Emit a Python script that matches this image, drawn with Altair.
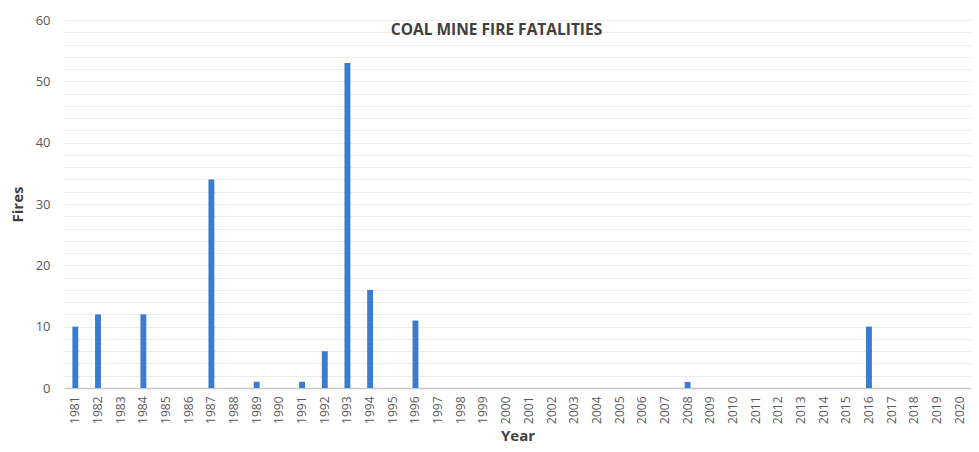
import altair as alt
import pandas as pd

years = [str(y) for y in range(1981, 2021)]
fatalities = [10, 12, 0, 12, 0, 0, 34, 0, 1, 0,
              1, 6, 53, 16, 0, 11, 0, 0, 0, 0,
              0, 0, 0, 0, 0, 0, 0, 1, 0, 0,
              0, 0, 0, 0, 0, 10, 0, 0, 0, 0]
major_ticks = [0, 10, 20, 30, 40, 50, 60]
minor_ticks = list(range(0, 61, 2))

df = pd.DataFrame({"Year": years, "Fires": fatalities})

FONT = "Open Sans"
x_enc = alt.X("Year:N", sort=years,
              scale=alt.Scale(paddingInner=0.74, paddingOuter=0.37),
              axis=alt.Axis(title="Year", labelAngle=-90, labelFontSize=12,
                            labelColor="#595959", labelFont=FONT, ticks=False,
                            domainColor="#c8c8c8", domainWidth=1.5,
                            titleFont=FONT, titleFontSize=15, titleColor="#404040",
                            titleFontWeight="bold", labelPadding=8, titlePadding=5,
                            grid=False))

minor = alt.Chart(df).mark_bar(opacity=0).encode(
    x=x_enc,
    y=alt.Y("Fires:Q", scale=alt.Scale(domain=[0, 60], nice=False),
            axis=alt.Axis(orient="left", values=minor_ticks, labels=False, ticks=False,
                          domain=False, title=None, gridColor="#ececec", gridWidth=1)),
)

bars = alt.Chart(df).mark_bar(color="#3b7bd0").encode(
    x=x_enc,
    y=alt.Y("Fires:Q", scale=alt.Scale(domain=[0, 60], nice=False),
            axis=alt.Axis(orient="left", values=major_ticks, ticks=False, domain=False,
                          title="Fires", labelFontSize=13, labelColor="#595959",
                          labelFont=FONT, labelPadding=14,
                          gridColor="#d4d4d4", gridWidth=1.3,
                          titleFont=FONT, titleFontSize=15, titleColor="#404040",
                          titleFontWeight="bold", titlePadding=10)),
)

chart = alt.layer(minor, bars).resolve_axis(y="independent").properties(
    width=907, height=368,
    title=alt.TitleParams("COAL MINE FIRE FATALITIES", anchor="middle", dx=-21, dy=28,
                          font=FONT, fontSize=15.5, fontWeight="bold", color="#404040"),
    autosize=alt.AutoSizeParams(type="none"),
    padding={"left": 56, "top": 12, "right": 0, "bottom": 56},
).configure_view(stroke=None)

chart.save("out.html", embed_options={"renderer": "svg", "actions": False})
